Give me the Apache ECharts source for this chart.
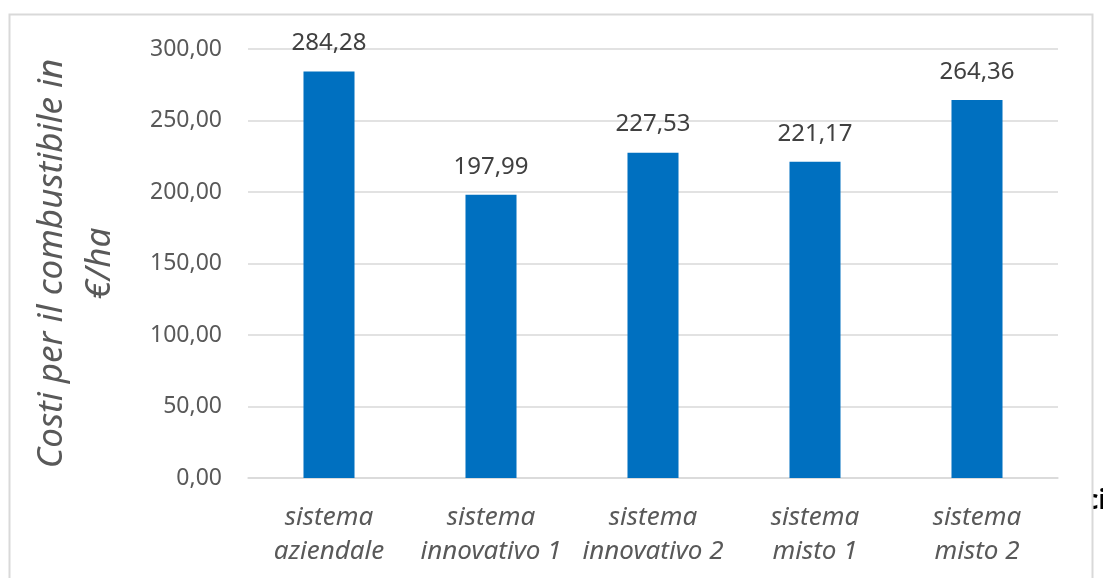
<!DOCTYPE html>
<html>
<head>
<meta charset="utf-8">
<script src="https://cdn.jsdelivr.net/npm/echarts@6/dist/echarts.min.js"></script>
<style>
html,body{margin:0;padding:0;background:#fff;}
#chart{width:1103px;height:578px;}
</style>
</head>
<body>
<div id="chart"></div>
<script>
const categories = ["sistema\naziendale", "sistema\ninnovativo 1", "sistema\ninnovativo 2", "sistema\nmisto 1", "sistema\nmisto 2"];
const values = [284.28, 197.99, 227.53, 221.17, 264.36];
const yTitle = "Costi per il combustibile in\n€/ha";
const yMin = 0, yMax = 300, yStep = 50;

const fmt = v => v.toFixed(2).replace('.', ',');
const FONT = '"Noto Sans", "Liberation Sans", sans-serif';

const chart = echarts.init(document.getElementById('chart'), null, {renderer: 'canvas'});
chart.setOption({
  animation: false,
  backgroundColor: '#ffffff',
  grid: {left: 248, right: 45, top: 49, bottom: 100, containLabel: false},
  graphic: [
    {type: 'text', x: 1085, y: 489, style: {text: 'ci', font: 'bold 26px ' + FONT, fill: '#000'}, z: 0},
    {type: 'rect', shape: {x: 1075, y: 480, width: 17, height: 45}, style: {fill: '#fff'}, z: 1},
    {type: 'rect', shape: {x: 9.5, y: 14.5, width: 1083, height: 600}, style: {fill: 'none', stroke: '#d9d9d9', lineWidth: 2}, z: 3}
  ],
  xAxis: {
    type: 'category',
    data: categories,
    axisLine: {show: true, lineStyle: {color: '#d9d9d9', width: 1.5}},
    axisTick: {show: false},
    axisLabel: {
      color: '#595959', fontSize: 26, fontStyle: 'italic', fontFamily: FONT,
      lineHeight: 34, margin: 23, interval: 0
    }
  },
  yAxis: {
    type: 'value',
    min: yMin, max: yMax, interval: yStep,
    name: yTitle,
    nameLocation: 'middle',
    nameGap: 124,
    nameRotate: 90,
    nameTextStyle: {color: '#595959', fontSize: 35, fontStyle: 'italic', fontFamily: FONT, lineHeight: 48},
    axisLine: {show: false},
    axisTick: {show: false},
    splitLine: {lineStyle: {color: '#d9d9d9', width: 1.5}},
    axisLabel: {color: '#595959', fontSize: 23, fontFamily: FONT, margin: 26, formatter: v => fmt(v)}
  },
  series: [{
    type: 'bar',
    data: values,
    barWidth: '31.5%',
    itemStyle: {color: '#0070c0'},
    label: {
      show: true, position: 'top', distance: 16,
      color: '#404040', fontSize: 24, fontFamily: FONT,
      formatter: p => fmt(p.value)
    }
  }]
});
</script>
</body>
</html>
